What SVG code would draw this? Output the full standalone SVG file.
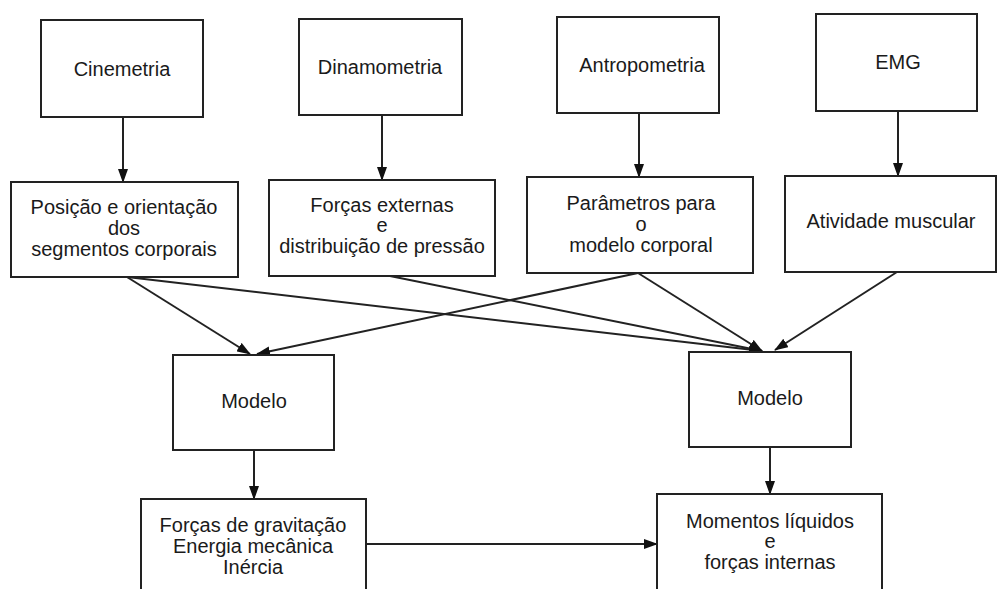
<svg xmlns="http://www.w3.org/2000/svg" width="1001" height="589" viewBox="0 0 1001 589">
<style>
.box{fill:#fff;stroke:#222;stroke-width:2}
.lbl{font-family:"Liberation Sans",Arial,sans-serif;font-size:20px;fill:#1a1a1a;text-anchor:middle}
.con{stroke:#222;stroke-width:2;fill:none;marker-end:url(#ah)}
</style>
<defs>
<marker id="ah" markerUnits="userSpaceOnUse" markerWidth="14" markerHeight="10" refX="13" refY="5" orient="auto">
<path d="M0,0 L14,5 L0,10 Z" fill="#111"/>
</marker>
</defs>
<rect width="1001" height="589" fill="#fff"/>
<g id="connectors">
<line class="con" x1="123" y1="117" x2="123" y2="182"/>
<line class="con" x1="382" y1="115" x2="382" y2="180"/>
<line class="con" x1="639" y1="113" x2="639" y2="177"/>
<line class="con" x1="898" y1="111" x2="898" y2="176"/>
<line class="con" x1="127" y1="277" x2="250" y2="354"/>
<line class="con" x1="127" y1="277" x2="762" y2="351"/>
<line class="con" x1="390" y1="276" x2="762" y2="351"/>
<line class="con" x1="638" y1="273" x2="257" y2="354"/>
<line class="con" x1="638" y1="273" x2="762" y2="351"/>
<line class="con" x1="897" y1="272" x2="775" y2="350"/>
<line class="con" x1="254" y1="450" x2="254" y2="499"/>
<line class="con" x1="770" y1="447" x2="770" y2="494"/>
<line class="con" x1="366" y1="544" x2="657" y2="544"/>
</g>
<g id="cinemetria"><rect class="box" x="41" y="20" width="162" height="97"/><text class="lbl" x="122" y="76">Cinemetria</text></g>
<g id="dinamometria"><rect class="box" x="299" y="19" width="163" height="96"/><text class="lbl" x="380" y="74">Dinamometria</text></g>
<g id="antropometria"><rect class="box" x="557" y="17" width="162" height="96"/><text class="lbl" x="642" y="72">Antropometria</text></g>
<g id="emg"><rect class="box" x="816" y="14" width="161" height="97"/><text class="lbl" x="898" y="69">EMG</text></g>
<g id="posicao"><rect class="box" x="11" y="182" width="227" height="95"/><text class="lbl" x="124" y="214">Posição e orientação</text><text class="lbl" x="124" y="235">dos</text><text class="lbl" x="124" y="256">segmentos corporais</text></g>
<g id="forcas-externas"><rect class="box" x="269" y="180" width="226" height="96"/><text class="lbl" x="382" y="212">Forças externas</text><text class="lbl" x="382" y="232">e</text><text class="lbl" x="382" y="253">distribuição de pressão</text></g>
<g id="parametros"><rect class="box" x="527" y="177" width="226" height="96"/><text class="lbl" x="641" y="210">Parâmetros para</text><text class="lbl" x="641" y="231">o</text><text class="lbl" x="641" y="252">modelo corporal</text></g>
<g id="atividade"><rect class="box" x="785" y="176" width="211" height="96"/><text class="lbl" x="891" y="228">Atividade muscular</text></g>
<g id="modelo-esq"><rect class="box" x="173" y="355" width="161" height="95"/><text class="lbl" x="254" y="408">Modelo</text></g>
<g id="modelo-dir"><rect class="box" x="689" y="352" width="162" height="95"/><text class="lbl" x="770" y="405">Modelo</text></g>
<g id="forcas-gravitacao"><rect class="box" x="141" y="499" width="225" height="92"/><text class="lbl" x="253" y="532">Forças de gravitação</text><text class="lbl" x="253" y="553">Energia mecânica</text><text class="lbl" x="253" y="574">Inércia</text></g>
<g id="momentos"><rect class="box" x="657" y="494" width="225" height="97"/><text class="lbl" x="770" y="528">Momentos líquidos</text><text class="lbl" x="770" y="548">e</text><text class="lbl" x="770" y="569">forças internas</text></g>
</svg>
